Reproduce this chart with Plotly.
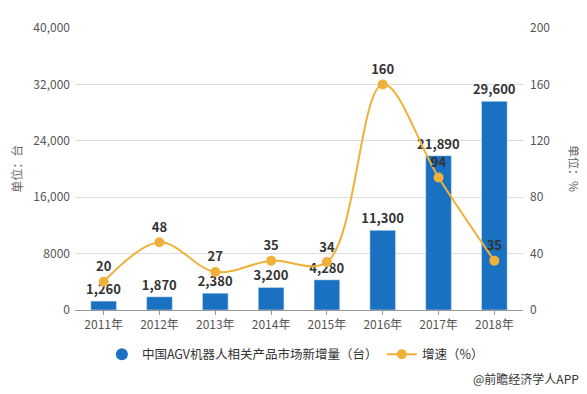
import plotly.graph_objects as go

years = ["2011年", "2012年", "2013年", "2014年", "2015年", "2016年", "2017年", "2018年"]
units = [1260, 1870, 2380, 3200, 4280, 11300, 21890, 29600]
growth = [20, 48, 27, 35, 34, 160, 94, 35]
left_ticks = [0, 8000, 16000, 24000, 32000, 40000]
left_tick_text = ["0", "8000", "16,000", "24,000", "32,000", "40,000"]
right_ticks = [0, 40, 80, 120, 160, 200]

bar_color = "#1a70c1"
line_color = "#f0b13a"
font_family = "Noto Sans CJK SC, Noto Sans, sans-serif"

fig = go.Figure()
fig.add_trace(go.Bar(
    x=years, y=units, name="中国AGV机器人相关产品市场新增量（台）",
    marker_color=bar_color, showlegend=False,
    texttemplate="<b>%{y:,}</b>", textposition="outside", constraintext="none",
    textfont=dict(size=13, color="#333333", family=font_family),
    cliponaxis=False, yaxis="y",
))
# legend proxy with circle symbol for the bar series
fig.add_trace(go.Scatter(
    x=[None], y=[None], mode="markers", name="中国AGV机器人相关产品市场新增量（台）",
    marker=dict(color=bar_color, size=12, symbol="circle"), yaxis="y",
    legend="legend",
))
fig.add_trace(go.Scatter(
    x=years, y=growth, name="增速（%）", mode="lines+markers+text",
    line=dict(color=line_color, width=2, shape="spline", smoothing=1.0),
    marker=dict(color=line_color, size=10),
    texttemplate="<b>%{y}</b>", textposition="top center",
    textfont=dict(size=13, color="#333333", family=font_family),
    cliponaxis=False, yaxis="y2", legend="legend2",
))

legend_common = dict(
    orientation="h", xanchor="left", y=-0.158, yanchor="middle",
    font=dict(size=12.5, color="#333333", family=font_family),
    itemwidth=30, tracegroupgap=0, bgcolor="rgba(0,0,0,0)",
)

fig.update_layout(
    width=579, height=386,
    margin=dict(l=67, r=64, t=10, b=84),
    paper_bgcolor="white", plot_bgcolor="white",
    font=dict(family=font_family, size=12, color="#555555"),
    bargap=0.54,
    xaxis=dict(
        type="category", showgrid=False, showline=True, linecolor="#999999",
        ticks="outside", ticklen=4, tickcolor="#999999",
        tickfont=dict(size=12, color="#555555"),
    ),
    yaxis=dict(
        range=[0, 40000], tickvals=left_ticks, ticktext=left_tick_text,
        showgrid=True, gridcolor="#dddddd", zeroline=False, showline=False,
        tickfont=dict(size=12, color="#555555"), ticklabelstandoff=4,
    ),
    yaxis2=dict(
        range=[0, 200], tickvals=right_ticks, overlaying="y", side="right",
        showgrid=False, zeroline=False, showline=False,
        tickfont=dict(size=12, color="#555555"), ticklabelstandoff=6,
    ),
    legend=dict(x=0.06, **legend_common),
    legend2=dict(x=0.685, **legend_common),
    annotations=[
        dict(text="单位：台", xref="paper", yref="paper", x=-0.132, y=0.5,
             textangle=-90, showarrow=False, font=dict(size=12, color="#666666"),
             xanchor="center", yanchor="middle"),
        dict(text="单位：%", xref="paper", yref="paper", x=1.116, y=0.5,
             textangle=90, showarrow=False, font=dict(size=12, color="#666666"),
             xanchor="center", yanchor="middle"),
        dict(text="@前瞻经济学人APP", xref="paper", yref="paper", x=1.13, y=-0.243,
             xanchor="right", yanchor="middle", showarrow=False,
             font=dict(size=12, color="#333333")),
    ],
)

fig.write_html("out.html")
